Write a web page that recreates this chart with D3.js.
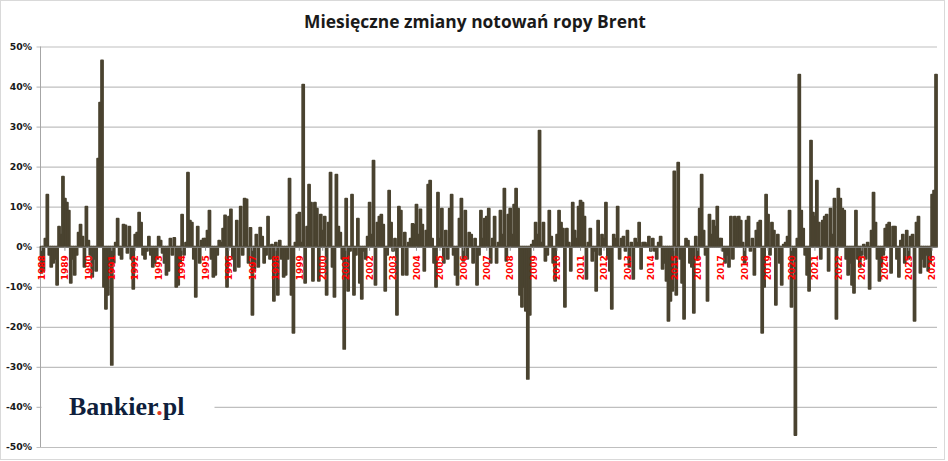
<!DOCTYPE html>
<html><head><meta charset="utf-8">
<script src="https://cdn.jsdelivr.net/npm/d3@7"></script>
<style>html,body{margin:0;padding:0;background:#fff;} svg{display:block;}</style>
</head><body>
<svg id="chart" width="948" height="461"></svg>
<script>
const chartTitle = "Miesięczne zmiany notowań ropy Brent";
const startYear = 1988;
const yearLabels = ["1988","1989","1990","1991","1992","1993","1994","1995","1996","1997","1998","1999","2000","2001","2002","2003","2004","2005","2006","2007","2008","2009","2010","2011","2012","2013","2014","2015","2016","2017","2018","2019","2020","2021","2022","2023","2024","2025","2026"];
const yTicks = [-50,-40,-30,-20,-10,0,10,20,30,40,50];
// monthly % change, one row per year (Jan..Dec)
const monthlyChange = [
  -6.5,-6,2,13,-2,-5,-4,-3,-9.5,5,3,17.5,
  12,11,9,-9,-3,-7,-2,3.5,5.5,2.5,-5,10,
  1.5,-2,-7.5,-3,-6,22,36,46.5,-10,-15.5,-12,-4,
  -29.5,-4,1,7,-2,-3,5.5,5.3,-1.5,5,-3,-10.5,
  3,3.5,8.5,6,-2,-3,-1,2.5,-2,-5,-4,-3,
  2.5,1.5,-1.5,-4,-7,-6,2,-2,2.2,-10,-9.5,-4,
  8,-2,1,18.5,6.5,6,-3,-12.5,5,-4,1.5,2,
  2,4,9,-3,-7.5,-7,-2,1.5,1,4.5,7.8,-10,
  7.5,9.3,-3,-6,6.5,-5,10,-2,12,11.8,-4,4.7,
  -17,-6,3,-5,4.8,2.5,-4,-2,7.5,-3,0.5,-13.5,
  1,-12,1.5,-3,-7.5,-7,-3,17,-12,-21.5,1,8,
  8.5,1,40.5,-9,5,15.5,11,-8.5,11,9.5,-8.5,8,
  4,7.5,-12,6,18.5,-5,-12.5,18,5,3.5,-3,-25.5,
  12,-11,-1,13,-12,-2,7,-9,-13,-1,-3,2.5,
  11,3,21.5,-9.5,6,7.5,8,5.5,-11,-2,14,6,
  -1,2,-17,10,9,-7,3.5,-7,1,2,5.7,5.5,
  10.5,3,9.3,5.5,-6,4,15.5,16.5,2,-4,-10,13.5,
  2,9.5,-4,4,-3,9.5,13,-2,-7,-9.5,7,12,
  -3.5,9,-3,3.5,3,-4,2,-9.5,-2,9,2,7,
  7.5,9.5,-4,2,7.5,-4,1,9,3,14.5,-3.5,8,
  9.5,3,10.5,14.5,9.5,-12,-15,-10,-16,-33,-17,0.5,
  1.5,6,3,29,1,6,-3.5,-2,9,2.5,-4,-8.5,
  3,9,6,4.5,-15,4.5,1,-6,11,4,2,10,
  11.5,11,7.5,-8,1,4.5,-3.5,-1,-11,6.5,-2,3,
  2,11,-3,-6,-15.5,3,2,10,-3,2,2.5,-1,
  4,-5,1,-8,2,1,6,-5.5,1,1,0.5,2.5,
  -1,2,-1,-3,1,2.5,-5.5,-4,-8.5,-18.5,-13.5,-11,
  18.8,-12,21,-3,-9,-18,2,1.5,-4,-5,-16.5,2.5,
  -3,9.5,18,4,-2,-13.5,8,3,6.5,5,10,2,
  2,-1,-4,-2,-5,7.5,-3,7.5,7,7.5,6.5,1,
  -4,6.5,7.5,-1,2,-7,4,6,6.5,-21.5,-10,13,
  8,-2,6,4,-14.5,3,-4,-9.5,0.5,1,2.5,9,
  -15,-3,-47,2,43,9,4.5,-2,-7,-11,26.5,8.5,
  7.5,16.5,6,-3,6.5,7.5,8,-6,9.5,3,12,-18,
  14.5,12,9.5,9,-3,-7,-4,-9.5,-11.5,9,-3,-5,
  -2,0.5,-3,1,-10.5,4,13.5,6,-3,-8.5,-5,-2,
  4.5,5.5,6,-6.5,5,5,-3,-7.5,1.5,3,-4,4,
  -3,2.5,3,-18.5,6,7.5,-6.5,-3,-5,-2,-6,-4,
  13,14,43
];

const svg = d3.select("#chart");
const plotL = 40.5, plotR = 937, plotT = 46.5, plotB = 447;
const barColor = "#4a4330";

svg.append("rect").attr("x",0).attr("y",0).attr("width",948).attr("height",461).attr("fill","#fff");
svg.append("rect").attr("x",0.5).attr("y",0.5).attr("width",944).attr("height",459)
  .attr("fill","none").attr("stroke","#d9d9d9");

const categories = monthlyChange.map((d,i)=> (startYear + Math.floor(i/12)) + "-" + String(i%12+1).padStart(2,"0"));
const x = d3.scaleBand().domain(categories).range([plotL, plotR]).padding(0);
const y = d3.scaleLinear().domain([-50,50]).range([plotB, plotT]);

// title
svg.append("text").attr("x",475).attr("y",28).attr("text-anchor","middle")
  .attr("font-family","'Open Sans', 'Noto Sans', sans-serif").attr("font-weight","bold")
  .attr("font-size",17.4).attr("fill","#1a1a1a").text(chartTitle);

// y axis with gridlines
const yAxis = svg.append("g").attr("transform",`translate(${plotL-4},0)`)
  .call(d3.axisLeft(y).tickValues(yTicks).tickSizeInner(-(plotR-plotL+4)).tickSizeOuter(0).tickPadding(4.5).tickFormat(d=>d+"%"));
yAxis.select(".domain").remove();
yAxis.selectAll("line").attr("stroke","#bfbfbf").attr("stroke-width",1.2);
yAxis.selectAll("text").attr("font-family","'DejaVu Sans', sans-serif").attr("font-weight","bold")
  .attr("font-size",9.3).attr("fill","#1a1a1a");

// vertical axis line
svg.append("line").attr("x1",plotL).attr("x2",plotL).attr("y1",plotT).attr("y2",plotB)
  .attr("stroke","#a6a6a6").attr("stroke-width",1);

// logo box
svg.append("rect").attr("x",plotL+1).attr("y",384).attr("width",173).attr("height",46).attr("fill","#fff");
const logo = svg.append("text").attr("x",69).attr("y",415)
  .attr("font-family","'Liberation Serif', 'DejaVu Serif', serif").attr("font-weight","bold")
  .attr("font-size",26).attr("fill","#0f1f3c");
logo.append("tspan").text("Bankier");
logo.append("tspan").attr("fill","#e03a26").text(".");
logo.append("tspan").text("pl");

// bars
svg.append("g").selectAll("rect").data(monthlyChange).join("rect")
  .attr("x",(d,i)=>x(categories[i]))
  .attr("width",x.bandwidth())
  .attr("y",d=>y(Math.max(0,d)))
  .attr("height",d=>Math.abs(y(d)-y(0)))
  .attr("fill",barColor).attr("stroke",barColor).attr("stroke-width",1.8)
  .attr("stroke-linejoin","round");

// category axis at zero
const yearCats = categories.filter((c,i)=> i%12===0);
const xAxis = svg.append("g").attr("transform",`translate(0,${y(0)})`)
  .call(d3.axisBottom(x).tickValues(yearCats).tickSizeInner(4).tickSizeOuter(0)
    .tickFormat((c,i)=>yearLabels[i]));
xAxis.select(".domain").attr("stroke","#8c8c8c").attr("stroke-width",1.2);
xAxis.selectAll("line").attr("stroke","#8c8c8c");
xAxis.selectAll("text")
  .attr("transform","rotate(-90)")
  .attr("x",-8.5).attr("y",0).attr("dy","0.36em")
  .attr("text-anchor","end")
  .attr("font-family","'DejaVu Sans', sans-serif").attr("font-weight","bold")
  .attr("font-size",9).attr("fill","#ff0000");
</script>
</body></html>
